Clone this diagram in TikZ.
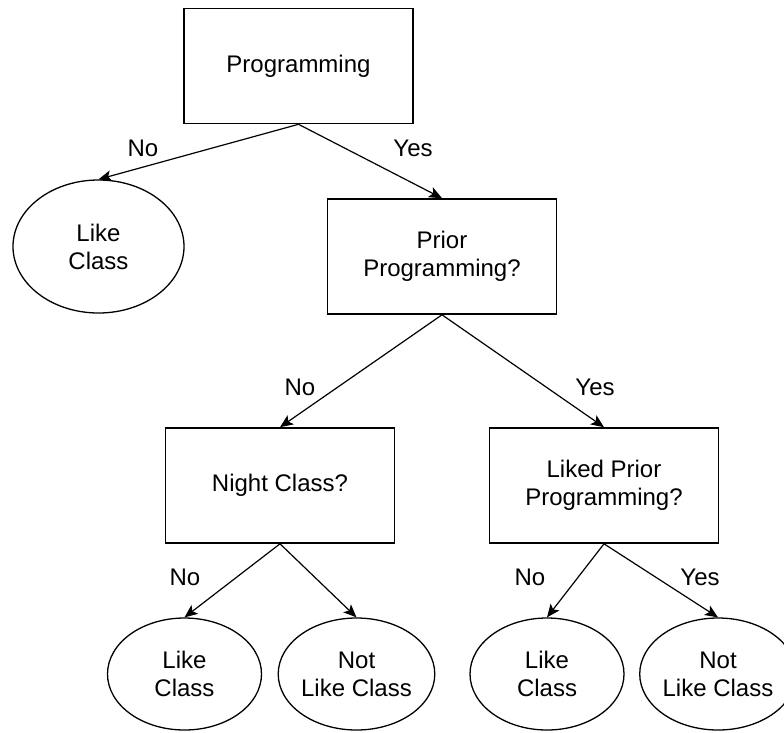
\documentclass[tikz,border=0pt]{standalone}
\usepackage{fontspec}
\setmainfont{Liberation Sans}
\usepackage{tikz}
\usetikzlibrary{arrows.meta,shapes.geometric}
\newcommand{\treefont}{\fontsize{24}{28}\selectfont}
\tikzset{%
  treebox/.style={%
    rectangle,
    draw=black,
    fill=white,
    line width=1.6pt,
    minimum width=229pt,
    minimum height=115pt,
    inner sep=0pt,
    align=center,
    font=\treefont
  },
  treeleaf/.style={%
    ellipse,
    draw=black,
    fill=white,
    line width=1.3pt,
    minimum width=154pt,
    minimum height=112pt,
    inner sep=0pt,
    align=center,
    font=\treefont
  },
  treelabel/.style={font=\treefont},
  treearrow/.style={-{Stealth[length=13pt,width=11pt,inset=3pt]},line width=1.2pt,draw=black}
}

\begin{document}
\begin{tikzpicture}[x=1pt,y=-1pt]
    \path[fill=white,use as bounding box] (0,0) rectangle (784,732);

    % decision boxes
    \node[treebox] (prog) at (298.5,66) {Programming};
    \node[treebox] (prior) at (442,256.5) {Prior\\Programming?};
    \node[treebox] (night) at (280,485.5) {Night Class?};
    \node[treebox] (liked) at (604,485.5) {Liked Prior\\Programming?};

    % outcomes
    \node[treeleaf,minimum width=171pt,minimum height=133pt] (likeA) at (98.5,246.5) {Like\\Class};
    \node[treeleaf] (likeB) at (184.5,674) {Like\\Class};
    \node[treeleaf] (notB) at (356.5,674) {Not\\Like Class};
    \node[treeleaf] (likeC) at (547,674) {Like\\Class};
    \node[treeleaf] (notC) at (718,674) {Not\\Like Class};

    \draw[treearrow] (prog.south) -- (likeA.north);
    \draw[treearrow] (prog.south) -- (prior.north);
    \draw[treearrow] (prior.south) -- (night.north);
    \draw[treearrow] (prior.south) -- (liked.north);
    \draw[treearrow] (night.south) -- (likeB.north);
    \draw[treearrow] (night.south) -- (notB.north);
    \draw[treearrow] (liked.south) -- (likeC.north);
    \draw[treearrow] (liked.south) -- (notC.north);

    % branch labels
    \node[treelabel] (noA) at (143,148) {No};
    \node[treelabel] (yesA) at (413,148) {Yes};
    \node[treelabel] (noB) at (300,387) {No};
    \node[treelabel] (yesB) at (595,387) {Yes};
    \node[treelabel] (noC) at (185,577) {No};
    \node[treelabel] (noD) at (530,577) {No};
    \node[treelabel] (yesD) at (700,577) {Yes};
  \end{tikzpicture}
\end{document}
